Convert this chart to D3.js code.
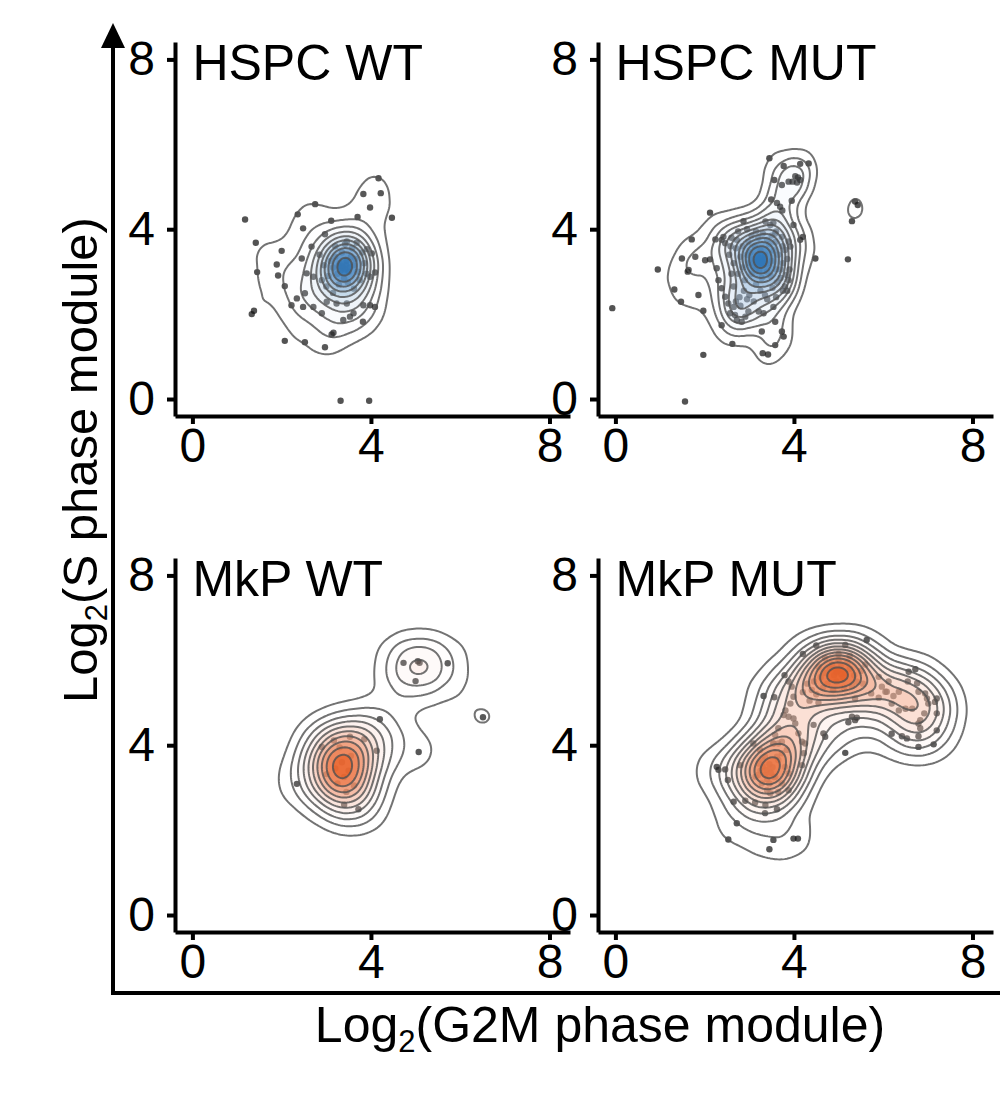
<!DOCTYPE html>
<html>
<head>
<meta charset="utf-8">
<script src="https://cdn.jsdelivr.net/npm/d3@7"></script>
<style>
  body { margin: 0; background: #fff; }
  text { font-family: "Liberation Sans", Arial, sans-serif; fill: #000; }
</style>
</head>
<body>
<div id="chart"></div>
<script>
// points, [log2 G2M, log2 S]
var hspcWT = [
  [4.17,5.20],[3.83,4.83],[4.22,4.85],[3.98,4.51],[4.47,4.27],[2.75,4.59],[2.36,4.35],[1.18,4.23],
  [3.11,4.20],[3.70,4.29],[2.48,4.02],[1.42,3.68],[2.00,3.49],[1.89,3.17],[1.45,2.99],[1.92,2.91],
  [2.07,2.66],[2.67,3.59],[2.97,3.88],[3.46,3.71],[3.68,3.68],[3.91,3.53],[4.02,3.43],[4.09,2.98],
  [3.98,2.88],[2.45,3.31],[2.56,2.96],[2.71,2.88],[2.52,2.49],[2.34,2.37],[2.22,2.21],[2.48,2.17],
  [2.71,2.17],[2.90,2.02],[3.01,2.29],[3.23,2.25],[3.46,2.25],[3.61,2.02],[3.83,2.21],[3.98,2.21],
  [4.09,2.17],[3.38,1.86],[3.53,1.94],[3.82,1.82],[1.33,2.00],[1.38,2.08],[3.16,1.56],[3.12,1.52],
  [2.07,1.37],[2.52,1.34],[2.97,1.22],[3.32,-0.04],[3.96,-0.04],
  [3.38,3.09],[3.30,3.20],[3.50,3.00],[3.25,2.95],[3.45,3.25],[3.60,3.15],[3.15,3.10],[3.40,2.85],
  [3.55,3.35],[3.20,3.35],[3.70,3.00],[3.05,2.90],[3.35,3.45],[3.65,3.30],[3.10,3.25],[3.48,2.75],
  [3.28,2.70],[3.75,2.80],[2.95,3.15],[3.85,3.20],[3.00,2.65],[3.58,3.55],[3.20,3.60],[2.90,2.80],
  [3.80,3.45],[3.42,3.65],[2.85,3.40],[3.90,2.95],[3.15,2.50],[3.62,2.60],
  [3.36,3.12],[3.42,3.05],[3.32,3.02],[3.44,3.16],[3.52,3.10],[3.28,3.14]
];

var hspcMUT = [
  [3.45,5.67],[3.77,5.49],[4.14,5.54],[4.33,5.55],[4.03,5.25],[4.09,5.22],[3.97,5.12],[4.07,5.10],
  [3.88,5.12],[4.14,5.16],[3.56,5.16],[3.73,5.04],[3.49,4.70],[3.62,4.62],[3.69,4.53],[3.74,4.44],
  [3.95,4.67],[2.12,4.39],[5.37,4.65],[5.43,4.57],[5.30,4.19],[5.21,3.29],[4.48,3.31],[4.20,3.82],
  [4.14,3.75],[3.99,4.10],[2.87,4.19],[3.36,4.18],[3.54,4.15],[1.71,3.76],[2.24,3.76],[2.38,3.75],
  [2.46,3.67],[2.42,3.82],[1.49,3.31],[1.79,3.35],[2.01,3.27],[2.12,3.29],[1.62,3.00],[1.64,3.04],
  [0.95,3.05],[1.32,2.58],[1.47,2.29],[1.86,2.45],[1.97,2.08],[-0.07,2.14],[1.56,-0.06],[1.97,1.04],
  [2.62,1.30],[2.38,1.74],[2.57,2.02],[2.65,2.17],[2.72,1.86],[2.83,1.82],[2.91,1.94],[2.68,1.98],
  [2.98,2.06],[3.28,1.59],[3.30,1.08],[3.42,1.05],[3.58,1.82],[3.73,1.59],[3.77,1.47],[3.58,1.27],
  [3.21,2.06],[3.32,2.02],[3.54,2.17],[2.27,3.08],[2.31,2.80],[2.38,2.61],[2.46,2.41],[2.53,2.25],
  [3.80,3.51],[3.84,2.92],[3.88,2.80],[3.80,2.65],[3.47,4.10],[3.58,3.90],[3.73,3.82],[3.88,3.71],
  [3.92,3.59],
  [3.21,3.23],[3.10,3.30],[3.30,3.15],[3.15,3.05],[3.35,3.40],[3.00,3.20],[3.40,3.00],[3.25,3.50],
  [2.95,3.40],[3.50,3.25],[3.05,2.95],[3.28,2.85],[3.55,3.50],[2.85,3.10],[3.45,3.65],[3.12,3.60],
  [2.90,2.80],[3.60,3.05],[3.18,3.38],[3.32,3.28],[3.08,3.12],[3.38,3.18],[3.22,3.02],[3.02,3.45],
  [3.48,2.90],[2.80,3.35],[3.65,3.40],[3.15,2.70],[2.75,2.95],[3.40,3.75],[3.70,2.85],[2.98,3.70],
  [3.58,3.70],[2.70,3.55],[3.25,2.55],[2.88,2.55],[3.52,2.62],[3.75,3.20],[2.65,3.20],[3.30,3.90],
  [3.20,3.26],[3.26,3.20],[3.16,3.18],[3.24,3.32],[3.12,3.24],[3.30,3.26],
  [2.60,3.80],[2.75,3.95],[2.95,4.00],[3.15,3.95],[3.60,3.95],[3.75,3.60],[3.85,3.30],[3.90,3.05],
  [2.55,3.40],[2.60,2.95],[2.65,2.65],[2.78,2.40],[2.95,2.35],[3.10,2.30],[3.40,2.35],[3.60,2.40],
  [3.75,2.55],[2.80,2.20],[2.70,2.30],[3.05,3.85],[3.50,3.85],[3.70,3.05],[2.58,3.60],[3.85,2.55],
  [3.00,2.45],[3.35,2.45],[2.72,3.75],[3.20,3.80],[3.62,2.75],[2.85,3.60]
];

var mkpWT = [
  [4.73,5.94],[5.09,5.94],[5.05,5.98],[5.72,5.93],[5.00,5.51],[6.51,4.66],[5.07,3.84],[4.20,4.61],
  [3.53,4.20],[3.17,4.11],[3.85,4.14],[2.90,3.96],[4.13,3.87],[2.34,3.09],[3.01,3.32],[3.72,2.49],
  [3.40,3.25],[3.35,3.60],[3.45,2.90],[3.30,3.95],[3.50,3.40],[3.25,3.10],[3.55,3.75],[3.40,2.60],
  [3.20,3.45],[3.62,3.05]
];

var mkpMUT = [
  [3.79,5.65],[3.32,5.16],[3.56,5.13],[3.88,5.50],[3.95,5.38],[3.99,5.14],[3.92,4.98],[3.81,4.82],
  [3.77,4.71],[3.88,4.67],[3.99,4.63],[4.03,4.51],[3.65,4.40],[3.58,4.24],[3.54,4.04],[3.65,4.04],
  [3.73,4.08],[3.84,3.89],[3.73,3.81],[3.62,3.73],[4.10,4.28],[4.18,4.08],[4.22,3.81],[4.18,3.53],
  [4.25,4.04],[4.44,4.48],[4.66,4.28],[4.70,4.20],[5.15,3.82],[5.30,4.67],[5.37,4.59],[5.22,4.54],
  [5.41,4.65],[5.37,5.10],[5.73,5.22],[5.90,5.12],[6.08,5.26],[6.23,5.16],[6.35,5.26],[6.19,4.98],
  [6.35,4.82],[6.50,4.86],[6.65,4.86],[6.57,5.73],[6.72,5.79],[6.55,5.50],[6.76,5.46],[6.79,5.26],
  [6.94,5.22],[6.98,5.10],[7.20,5.10],[7.16,5.02],[7.01,4.98],[7.20,4.75],[6.92,4.75],[6.83,4.59],
  [6.79,4.51],[6.83,4.40],[6.19,4.27],[6.42,4.21],[6.79,4.21],[7.20,4.35],[6.79,3.96],[7.13,4.02],
  [6.53,4.16],[5.90,5.61],[5.97,5.38],[6.12,5.50],[6.05,5.26],[5.63,6.48],[5.15,6.36],[4.50,6.35],
  [4.20,6.15],
  [4.98,5.75],[4.80,5.80],[5.15,5.70],[4.90,5.65],[5.05,5.85],[4.70,5.70],[5.25,5.80],[4.85,5.90],
  [5.10,5.60],[4.60,5.60],[5.35,5.65],[4.95,5.50],[5.20,5.95],[4.75,5.45],[5.40,5.50],[4.55,5.85],
  [5.00,6.00],[4.65,5.35],[5.30,5.40],[4.45,5.50],[5.50,5.75],[4.88,5.30],[5.12,5.35],[4.40,5.30],
  [5.55,5.45],[4.50,5.20],[5.00,6.15],[4.30,5.45],[5.60,5.90],[4.70,6.05],[5.25,6.10],[4.20,5.25],
  [4.35,5.05],[4.55,5.00],[4.95,5.72],[5.02,5.78],[4.92,5.80],[5.06,5.68],
  [3.39,3.42],[2.27,3.49],[2.31,3.42],[2.46,3.43],[2.80,3.53],[2.52,3.18],[3.09,4.04],[3.24,3.89],
  [3.54,4.04],[3.35,3.73],[3.21,3.57],[3.65,3.65],[3.80,3.49],[3.88,3.34],[3.58,3.26],[3.28,3.10],
  [3.14,3.26],[3.40,2.94],[3.47,2.87],[3.65,2.90],[3.88,2.94],[3.73,3.10],[2.65,2.67],[2.91,2.69],
  [3.13,2.65],[3.36,2.59],[3.62,2.49],[3.35,2.40],[2.72,2.16],[2.53,1.78],[3.54,1.77],[3.45,1.55],
  [3.99,1.80],[4.09,1.80],
  [3.30,3.50],[3.48,3.35],[3.35,3.30],[3.45,3.55],[3.25,3.40],[3.52,3.48],[3.40,3.20],[3.20,3.30],
  [3.55,3.25],[3.30,3.65],[3.45,3.10]
];

var titles = ["HSPC WT", "HSPC MUT", "MkP WT", "MkP MUT"];
var tickValues = [0, 4, 8];

var svgWidth = 1000;
var svgHeight = 1094;

var svg = d3.select("#chart")
  .append("svg")
  .attr("width", svgWidth)
  .attr("height", svgHeight);

// each facet is the same size
var panelW = 395;
var panelH = 374;

var xScale = d3.scaleLinear().domain([-0.39, 8.46]).range([0, panelW]);
var yScale = d3.scaleLinear().domain([-0.40, 8.41]).range([panelH, 0]);
var pxX = xScale(1) - xScale(0);
var pxY = yScale(0) - yScale(1);

// same rule as MASS::bandwidth.nrd (kernel sd = h/4)
function nrdSd(v) {
  var s = d3.deviation(v);
  var iqr = (d3.quantile(v, 0.75) - d3.quantile(v, 0.25)) / 1.34;
  return 1.06 * Math.min(s, iqr) * Math.pow(v.length, -0.2);
}

var panels = [
  { title: titles[0], pts: hspcWT,  left: 175, top: 42,  hi: "#1f6db5", k: 1.05, levels: 10 },
  { title: titles[1], pts: hspcMUT, left: 598, top: 42,  hi: "#1f6db5", k: 0.95, levels: 12 },
  { title: titles[2], pts: mkpWT,   left: 175, top: 558, hi: "#e8561a", k: 0.9,  levels: 10 },
  { title: titles[3], pts: mkpMUT,  left: 598, top: 558, hi: "#e8561a", k: 0.9,  levels: 12 }
];

panels.forEach(function(p) {
  var g = svg.append("g")
    .attr("transform", `translate(${p.left}, ${p.top})`);

  var xs = p.pts.map(d => d[0]).sort(d3.ascending);
  var ys = p.pts.map(d => d[1]).sort(d3.ascending);
  var bx = nrdSd(xs) * pxX * p.k;
  var by = nrdSd(ys) * pxY * p.k;
  var sx = by / bx; // stretch x so one bandwidth fits both axes

  var est = d3.contourDensity()
    .x(d => xScale(d[0]) * sx)
    .y(d => yScale(d[1]))
    .size([Math.ceil(panelW * sx), panelH])
    .cellSize(2)
    .bandwidth(by);

  var dens;
  if (est.contours) {
    var c = est.contours(p.pts);
    var step = c.max / (p.levels + 0.6);
    dens = d3.range(1, p.levels + 1).map(i => c(i * step));
  } else {
    dens = est.thresholds(p.levels)(p.pts);
  }

  var unstretch = d3.geoTransform({
    point: function(x, y) { this.stream.point(x / sx, y); }
  });
  var path = d3.geoPath(unstretch);

  var n = dens.length;
  var col = d3.interpolateRgb("#ffffff", p.hi);

  // points first, the filled levels stack over them like alpha polygons
  g.append("g")
    .selectAll("circle")
    .data(p.pts)
    .join("circle")
    .attr("cx", d => xScale(d[0]))
    .attr("cy", d => yScale(d[1]))
    .attr("r", 3.2)
    .attr("fill", "#111")
    .attr("fill-opacity", 0.72);

  g.append("g")
    .selectAll("path")
    .data(dens)
    .join("path")
    .attr("d", path)
    .attr("fill", (d, i) => col(i / Math.max(1, n - 1)))
    .attr("fill-opacity", (d, i) => 0.03 + 0.5 * Math.pow(i / Math.max(1, n - 1), 1.3))
    .attr("stroke", "#505050")
    .attr("stroke-opacity", 0.8)
    .attr("stroke-width", 2)
    .attr("stroke-linejoin", "round");

  // axes
  var xAxis = g.append("g")
    .attr("transform", `translate(0, ${panelH})`)
    .call(d3.axisBottom(xScale).tickValues(tickValues).tickSize(8).tickSizeOuter(0).tickPadding(4));
  var yAxis = g.append("g")
    .call(d3.axisLeft(yScale).tickValues(tickValues).tickSize(8).tickSizeOuter(0).tickPadding(12));

  [xAxis, yAxis].forEach(function(a) {
    a.select(".domain").attr("stroke", "#000").attr("stroke-width", 4);
    a.selectAll(".tick line").attr("stroke", "#000").attr("stroke-width", 4);
    a.selectAll(".tick text")
      .attr("font-size", 48)
      .attr("font-family", "Liberation Sans, Arial, sans-serif")
      .attr("fill", "#000");
  });

  g.append("text")
    .attr("x", xScale(0))
    .attr("y", 38)
    .attr("font-size", 50)
    .text(p.title);
});

// outer arrow axes
svg.append("line")
  .attr("x1", 113).attr("y1", 995)
  .attr("x2", 113).attr("y2", 44)
  .attr("stroke", "#000").attr("stroke-width", 4);
svg.append("path")
  .attr("d", "M113,23L101,48L125,48Z")
  .attr("fill", "#000");
svg.append("line")
  .attr("x1", 111).attr("y1", 993)
  .attr("x2", 1000).attr("y2", 993)
  .attr("stroke", "#000").attr("stroke-width", 4);

// axis titles
var xt = svg.append("text")
  .attr("x", 600)
  .attr("y", 1042)
  .attr("text-anchor", "middle")
  .attr("font-size", 50);
xt.append("tspan").text("Log");
xt.append("tspan").attr("dy", 10).attr("font-size", 31).text("2");
xt.append("tspan").attr("dy", -10).text("(G2M phase module)");

var yt = svg.append("text")
  .attr("transform", "translate(97, 460) rotate(-90)")
  .attr("text-anchor", "middle")
  .attr("font-size", 49);
yt.append("tspan").text("Log");
yt.append("tspan").attr("dy", 10).attr("font-size", 31).text("2");
yt.append("tspan").attr("dy", -10).text("(S phase module)");
</script>
</body>
</html>
